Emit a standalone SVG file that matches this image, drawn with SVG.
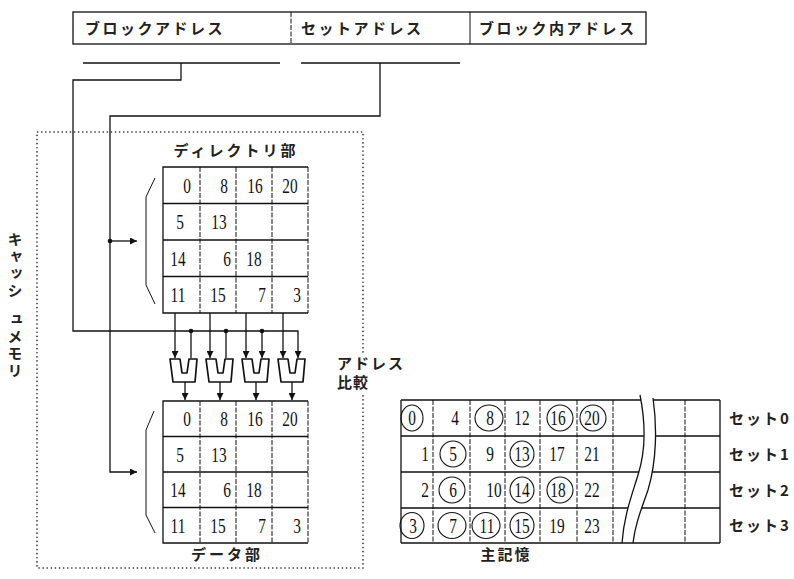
<svg xmlns="http://www.w3.org/2000/svg" width="794" height="579" viewBox="0 0 794 579">
<style>
.ln{stroke:#111;stroke-width:1.3;fill:none}
.thin{stroke:#111;stroke-width:1;fill:none}
.dsh{stroke:#111;stroke-width:1;fill:none;stroke-dasharray:5 1.5}
.dot{stroke:#222;stroke-width:1.6;fill:none;stroke-dasharray:0.1 4;stroke-linecap:round}
.num{font-family:"Liberation Serif",serif;font-size:22px;fill:#111;text-anchor:middle}
.jp{font-family:"Noto Sans CJK JP",sans-serif;font-size:15px;font-weight:bold;fill:#222}
.cmp{stroke:#111;stroke-width:1.7;fill:#fff;stroke-linejoin:round}
.circ{stroke:#111;stroke-width:1.1;fill:none}
</style>
<defs>
<marker id="ah" viewBox="0 0 8 8" refX="8" refY="4" markerWidth="7" markerHeight="7" markerUnits="userSpaceOnUse" orient="auto">
<path d="M0,0 L8,4 L0,8 Z" fill="#111"/>
</marker>
</defs>
<rect width="794" height="579" fill="#fff"/>

<g id="address-bar">
<rect x="73" y="12" width="573" height="32" class="ln"/>
<line x1="291" y1="12" x2="291" y2="44" class="dsh"/>
<line x1="470" y1="12" x2="470" y2="44" class="thin"/>
<text x="85" y="34" class="jp" letter-spacing="2.5">ブロックアドレス</text>
<text x="301" y="34" class="jp" letter-spacing="2.5">セットアドレス</text>
<text x="479" y="34" class="jp" letter-spacing="2.5">ブロック内アドレス</text>
</g>

<g id="cache-box">
<path d="M363,352 V132 H37 V568 H363 V392" class="dot"/>
<text class="jp" font-size="14" x="15" y="232" writing-mode="vertical-rl" letter-spacing="2">キャッシ<tspan dy="12">ュメモリ</tspan></text>
</g>

<g id="directory">
<text x="236" y="156" class="jp" text-anchor="middle" letter-spacing="3">ディレクトリ部</text>
<path d="M308,167 H163 V313 H308" class="ln"/>
<path d="M163,203.5 H308 M163,240 H308 M163,276.5 H308" class="ln"/>
<path d="M200,167 V313 M236,167 V313 M272,167 V313 M308,167 V313" class="dsh"/>
<path d="M155,178 L146,197 V285 L155,304" class="thin"/>
<g class="num">
<text transform="translate(187 192.5) scale(0.7 1)">0</text>
<text transform="translate(224 192.5) scale(0.7 1)">8</text>
<text transform="translate(255 192.5) scale(0.7 1)">16</text>
<text transform="translate(290 192.5) scale(0.7 1)">20</text>
<text transform="translate(180 229) scale(0.7 1)">5</text>
<text transform="translate(219 229) scale(0.7 1)">13</text>
<text transform="translate(178 265.5) scale(0.7 1)">14</text>
<text transform="translate(227 265.5) scale(0.7 1)">6</text>
<text transform="translate(254 265.5) scale(0.7 1)">18</text>
<text transform="translate(178 302) scale(0.7 1)">11</text>
<text transform="translate(218 302) scale(0.7 1)">15</text>
<text transform="translate(262 302) scale(0.7 1)">7</text>
<text transform="translate(297 302) scale(0.7 1)">3</text>
</g>
</g>

<g id="comparators">
<g id="cmp1"><path d="M170,359 H180 L182,373 H187 L189,359 H197 L195,382 H173 Z" class="cmp"/></g>
<g id="cmp2"><path d="M206,359 H216 L218,373 H223 L225,359 H233 L231,382 H209 Z" class="cmp"/></g>
<g id="cmp3"><path d="M242,359 H252 L254,373 H259 L261,359 H269 L267,382 H245 Z" class="cmp"/></g>
<g id="cmp4"><path d="M278,359 H288 L290,373 H295 L297,359 H305 L303,382 H281 Z" class="cmp"/></g>
<text class="jp" font-size="14"><tspan x="337" y="369" letter-spacing="2">アドレス</tspan><tspan x="337" y="388" letter-spacing="1">比較</tspan></text>
</g>

<g id="data">
<path d="M308,401 H163 V543 H308" class="ln"/>
<path d="M163,436.5 H308 M163,472 H308 M163,507.5 H308" class="ln"/>
<path d="M200,401 V543 M236,401 V543 M272,401 V543 M308,401 V543" class="dsh"/>
<path d="M154,411 L146,430 V515 L155,533" class="thin"/>
<g class="num">
<text transform="translate(187 426) scale(0.7 1)">0</text>
<text transform="translate(224 426) scale(0.7 1)">8</text>
<text transform="translate(255 426) scale(0.7 1)">16</text>
<text transform="translate(290 426) scale(0.7 1)">20</text>
<text transform="translate(180 461.5) scale(0.7 1)">5</text>
<text transform="translate(219 461.5) scale(0.7 1)">13</text>
<text transform="translate(178 497) scale(0.7 1)">14</text>
<text transform="translate(227 497) scale(0.7 1)">6</text>
<text transform="translate(254 497) scale(0.7 1)">18</text>
<text transform="translate(178 532.5) scale(0.7 1)">11</text>
<text transform="translate(218 532.5) scale(0.7 1)">15</text>
<text transform="translate(262 532.5) scale(0.7 1)">7</text>
<text transform="translate(297 532.5) scale(0.7 1)">3</text>
</g>
<text x="227" y="560" class="jp" text-anchor="middle" letter-spacing="3">データ部</text>
</g>

<g id="main-memory">
<path d="M401,400 H720 M401,436 H720 M401,472 H720 M401,508 H720" class="ln"/>
<path d="M401,400 V543 M720,400 V543" class="ln"/>
<path d="M433,400 V543 M470,400 V543 M505,400 V543 M540,400 V543 M577,400 V543 M613,400 V543 M685,400 V543" class="dsh"/>
<path d="M640,395 C645,420 646,450 638,475 C632,495 624,515 622,543 L633,543 C635,525 641,510 648,490 C657,460 657,425 653,398 Z" fill="#fff" stroke="none"/>
<path d="M640,395 C645,420 646,450 638,475 C632,495 624,515 622,543" class="ln"/>
<path d="M653,398 C657,425 657,460 648,490 C641,510 635,525 633,543" class="ln"/>
<path d="M401,543 H720" class="ln"/>
<g class="circ">
<ellipse cx="412" cy="418" rx="11" ry="13"/>
<ellipse cx="489" cy="418" rx="14" ry="13"/>
<ellipse cx="560" cy="418" rx="13" ry="13"/>
<ellipse cx="593" cy="418" rx="13" ry="13"/>
<ellipse cx="453" cy="454" rx="13" ry="13"/>
<ellipse cx="522" cy="454" rx="12" ry="13"/>
<ellipse cx="452" cy="490" rx="13" ry="13"/>
<ellipse cx="522" cy="490" rx="12" ry="13"/>
<ellipse cx="560" cy="490" rx="13" ry="13"/>
<ellipse cx="412" cy="525.5" rx="12" ry="13"/>
<ellipse cx="452" cy="525.5" rx="14" ry="13"/>
<ellipse cx="486" cy="525.5" rx="14" ry="13"/>
<ellipse cx="522" cy="525.5" rx="12" ry="13"/>
</g>
<g class="num">
<text transform="translate(412 425) scale(0.7 1)">0</text>
<text transform="translate(455 425) scale(0.7 1)">4</text>
<text transform="translate(490 425) scale(0.7 1)">8</text>
<text transform="translate(522 425) scale(0.7 1)">12</text>
<text transform="translate(558 425) scale(0.7 1)">16</text>
<text transform="translate(592 425) scale(0.7 1)">20</text>
<text transform="translate(425 461) scale(0.7 1)">1</text>
<text transform="translate(453 461) scale(0.7 1)">5</text>
<text transform="translate(490 461) scale(0.7 1)">9</text>
<text transform="translate(522 461) scale(0.7 1)">13</text>
<text transform="translate(557 461) scale(0.7 1)">17</text>
<text transform="translate(592 461) scale(0.7 1)">21</text>
<text transform="translate(425 497) scale(0.7 1)">2</text>
<text transform="translate(453 497) scale(0.7 1)">6</text>
<text transform="translate(494 497) scale(0.7 1)">10</text>
<text transform="translate(522 497) scale(0.7 1)">14</text>
<text transform="translate(558 497) scale(0.7 1)">18</text>
<text transform="translate(592 497) scale(0.7 1)">22</text>
<text transform="translate(413 532.5) scale(0.7 1)">3</text>
<text transform="translate(453 532.5) scale(0.7 1)">7</text>
<text transform="translate(487 532.5) scale(0.7 1)">11</text>
<text transform="translate(522 532.5) scale(0.7 1)">15</text>
<text transform="translate(557 532.5) scale(0.7 1)">19</text>
<text transform="translate(592 532.5) scale(0.7 1)">23</text>
</g>
<text class="jp" font-size="14" letter-spacing="2"><tspan x="729" y="424">セット0</tspan><tspan x="729" y="460">セット1</tspan><tspan x="729" y="496">セット2</tspan><tspan x="729" y="531">セット3</tspan></text>
<text x="506" y="560" class="jp" text-anchor="middle" letter-spacing="2">主記憶</text>
</g>

<g id="connectors">
<path d="M83,63 H280 M301,63 H460" class="ln"/>
<path d="M181,63 V80 H73 V331 H298 V358" class="ln" marker-end="url(#ah)"/>
<path d="M380,63 V116 H110 V472 H137" class="ln" marker-end="url(#ah)"/>
<path d="M110,241 H137" class="ln" marker-end="url(#ah)"/>
<circle cx="110" cy="241" r="2.3" fill="#111"/>
<path d="M191,331 V358 M226,331 V358 M262,331 V358" class="ln" marker-end="url(#ah)"/>
<circle cx="191" cy="331" r="2.3" fill="#111"/>
<circle cx="226" cy="331" r="2.3" fill="#111"/>
<circle cx="262" cy="331" r="2.3" fill="#111"/>
<path d="M175,313 V358" class="ln" marker-end="url(#ah)"/>
<path d="M210,313 V358" class="ln" marker-end="url(#ah)"/>
<path d="M246,313 V358" class="ln" marker-end="url(#ah)"/>
<path d="M283,313 V358" class="ln" marker-end="url(#ah)"/>
<path d="M185,382 V400" class="ln" marker-end="url(#ah)"/>
<path d="M220,382 V400" class="ln" marker-end="url(#ah)"/>
<path d="M256,382 V400" class="ln" marker-end="url(#ah)"/>
<path d="M292,382 V400" class="ln" marker-end="url(#ah)"/>
</g>
</svg>
